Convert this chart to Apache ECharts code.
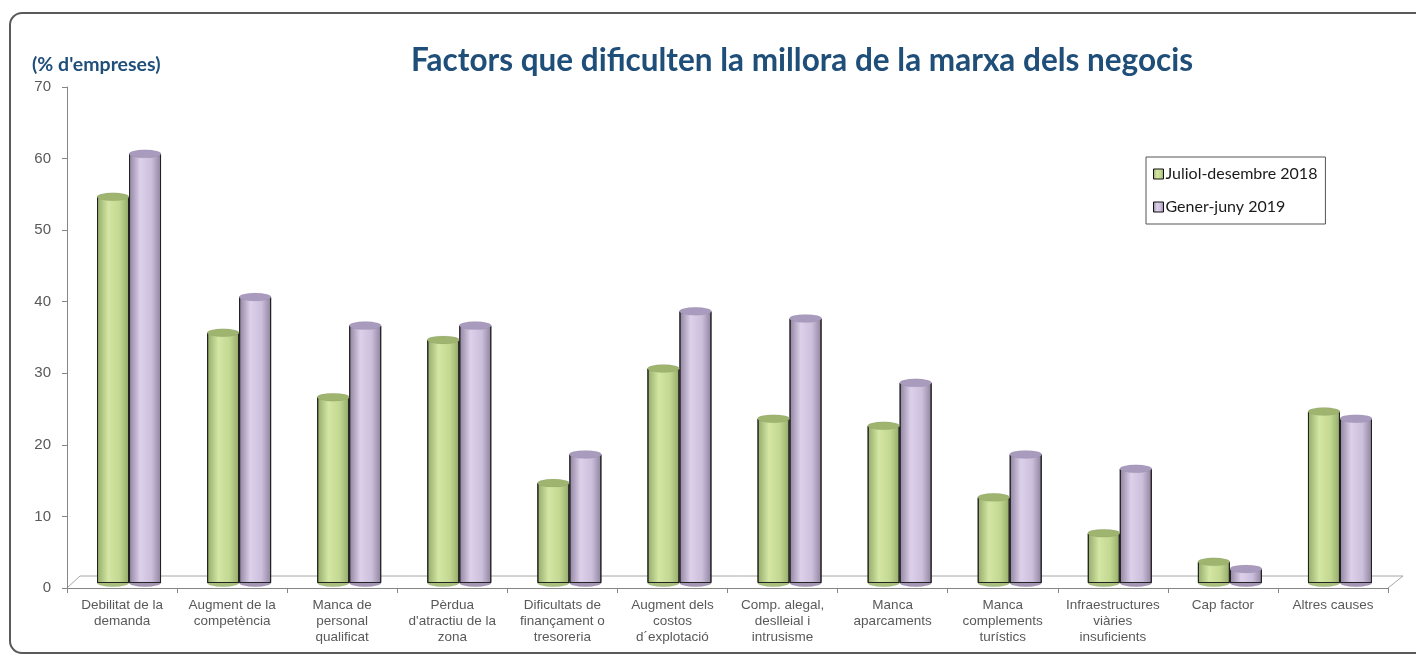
<!DOCTYPE html>
<html>
<head>
<meta charset="utf-8">
<script src="https://cdn.jsdelivr.net/npm/echarts@6/dist/echarts.min.js"></script>
<style>
  html, body { margin: 0; padding: 0; background: #fff; }
  #chart { width: 1416px; height: 655px; }
</style>
</head>
<body>
<div id="chart"></div>
<script>
// dades
let categories = [
  'Debilitat de la\ndemanda',
  'Augment de la\ncompetència',
  'Manca de\npersonal\nqualificat',
  'Pèrdua\nd\'atractiu de la\nzona',
  'Dificultats de\nfinançament o\ntresoreria',
  'Augment dels\ncostos\nd´explotació',
  'Comp. alegal,\ndeslleial i\nintrusisme',
  'Manca\naparcaments',
  'Manca\ncomplements\nturístics',
  'Infraestructures\nviàries\ninsuficients',
  'Cap factor',
  'Altres causes'
];
let seriesNames = ['Juliol-desembre 2018', 'Gener-juny 2019'];
let valuesH2018 = [54, 35, 26, 34, 14, 30, 23, 22, 12, 7, 3, 24];
let valuesH2019 = [60, 40, 36, 36, 18, 38, 37, 28, 18, 16, 2, 23];
let yTicks = [0, 10, 20, 30, 40, 50, 60, 70];

let chart = echarts.init(document.querySelector('#chart'));

const BAR_W = 32;
const titleBlue = '#1f4e79';

function cylGradient(dark, light, mid) {
  return new echarts.graphic.LinearGradient(0, 0, 1, 0, [
    { offset: 0, color: dark },
    { offset: 0.35, color: light },
    { offset: 0.7, color: mid },
    { offset: 1, color: dark }
  ]);
}

let greenBody = cylGradient('#93aa68', '#d3e6a3', '#c3d892');
let purpleBody = cylGradient('#8f829f', '#dcd0ea', '#cbbfdc');

// tapa i base de cada cilindre
function capSeries(data, color, xOff, top) {
  return {
    type: 'pictorialBar',
    xAxisIndex: 1,
    yAxisIndex: 1,
    data: data,
    symbol: 'circle',
    symbolSize: [BAR_W, 8],
    symbolPosition: top ? 'end' : 'start',
    symbolOffset: [xOff, top ? '-50%' : '50%'],
    barGap: '-100%',
    z: top ? 5 : 1,
    silent: true,
    itemStyle: { color: color, borderColor: '#222', borderWidth: 1 },
    tooltip: { show: false }
  };
}

let option = {
  animation: false,
  textStyle: { fontFamily: 'Liberation Sans' },
  title: [
    {
      text: 'Factors que dificulten la millora de la marxa dels negocis',
      left: 797,
      textAlign: 'center',
      top: 40,
      textStyle: { fontFamily: 'Lato', fontWeight: 'bold', fontSize: 31.5, color: titleBlue }
    },
    {
      text: '(% d\'empreses)',
      left: 27,
      top: 50,
      textStyle: { fontFamily: 'Lato', fontWeight: 'bold', fontSize: 19.5, color: titleBlue }
    }
  ],
  legend: {
    data: seriesNames,
    orient: 'vertical',
    left: 1146,
    top: 157,
    padding: [9, 8, 9, 7],
    itemGap: 17,
    itemWidth: 10,
    itemHeight: 10,
    icon: 'rect',
    itemStyle: { borderColor: '#111', borderWidth: 1 },
    borderColor: '#555',
    borderWidth: 1,
    borderRadius: 0,
    backgroundColor: '#fff',
    textStyle: { fontFamily: 'Lato', fontSize: 16, color: '#1a1a1a', padding: [0, 0, 0, -3] }
  },
  grid: [
    { left: 67, right: 28, top: 87, bottom: 67, containLabel: false },
    // pla de les barres, desplaçat en profunditat
    { left: 74, right: 21, top: 82, bottom: 72, containLabel: false }
  ],
  xAxis: [
    {
      type: 'category',
      gridIndex: 0,
      data: categories,
      axisLine: { lineStyle: { color: '#868686' } },
      axisTick: { show: true, length: 5, lineStyle: { color: '#868686' } },
      axisLabel: {
        interval: 0,
        color: '#595959',
        fontSize: 13.5,
        lineHeight: 16,
        margin: 9
      }
    },
    { type: 'category', gridIndex: 1, data: categories, show: false }
  ],
  yAxis: [
    {
      type: 'value',
      gridIndex: 0,
      min: yTicks[0],
      max: yTicks[yTicks.length - 1],
      interval: 10,
      axisLine: { show: true, lineStyle: { color: '#868686' } },
      axisTick: { show: true, length: 5, lineStyle: { color: '#868686' } },
      splitLine: { show: false },
      axisLabel: { color: '#595959', fontSize: 15, margin: 16 }
    },
    {
      type: 'value',
      gridIndex: 1,
      min: yTicks[0],
      max: yTicks[yTicks.length - 1],
      interval: 10,
      show: false,
      splitLine: { show: false }
    }
  ],
  series: [
    {
      name: seriesNames[0],
      type: 'bar',
      xAxisIndex: 1,
      yAxisIndex: 1,
      data: valuesH2018,
      barWidth: BAR_W,
      barGap: '0%',
      z: 3,
      itemStyle: { color: greenBody, borderColor: '#222', borderWidth: 1 }
    },
    {
      name: seriesNames[1],
      type: 'bar',
      xAxisIndex: 1,
      yAxisIndex: 1,
      data: valuesH2019,
      barWidth: BAR_W,
      barGap: '0%',
      z: 3,
      itemStyle: { color: purpleBody, borderColor: '#222', borderWidth: 1 }
    },
    capSeries(valuesH2018, '#9fb46f', -BAR_W / 2, true),
    capSeries(valuesH2019, '#a99bbd', BAR_W / 2, true),
    capSeries(valuesH2018, '#a9bf7d', -BAR_W / 2, false),
    capSeries(valuesH2019, '#a497b6', BAR_W / 2, false)
  ],
  color: ['#cbe09b', '#d6cbe6']
};
chart.setOption(option);

// terra 3D i marc exterior
let p0 = chart.convertToPixel({ gridIndex: 0 }, [0, 0]);
let x0 = 67, x1 = 1416 - 28, y0 = p0[1];
chart.setOption({
  graphic: [
    {
      type: 'polyline',
      silent: true,
      z: 0,
      shape: { points: [[x0, y0], [x0 + 13, y0 - 12], [x1 + 15, y0 - 12], [x1, y0]] },
      style: { stroke: '#a6a6a6', lineWidth: 1, fill: null }
    },
    {
      type: 'rect',
      silent: true,
      z: -1,
      shape: { x: 10, y: 13, width: 1420, height: 640, r: 12 },
      style: { stroke: '#5a5a5a', lineWidth: 2, fill: null }
    }
  ]
});
</script>
</body>
</html>
